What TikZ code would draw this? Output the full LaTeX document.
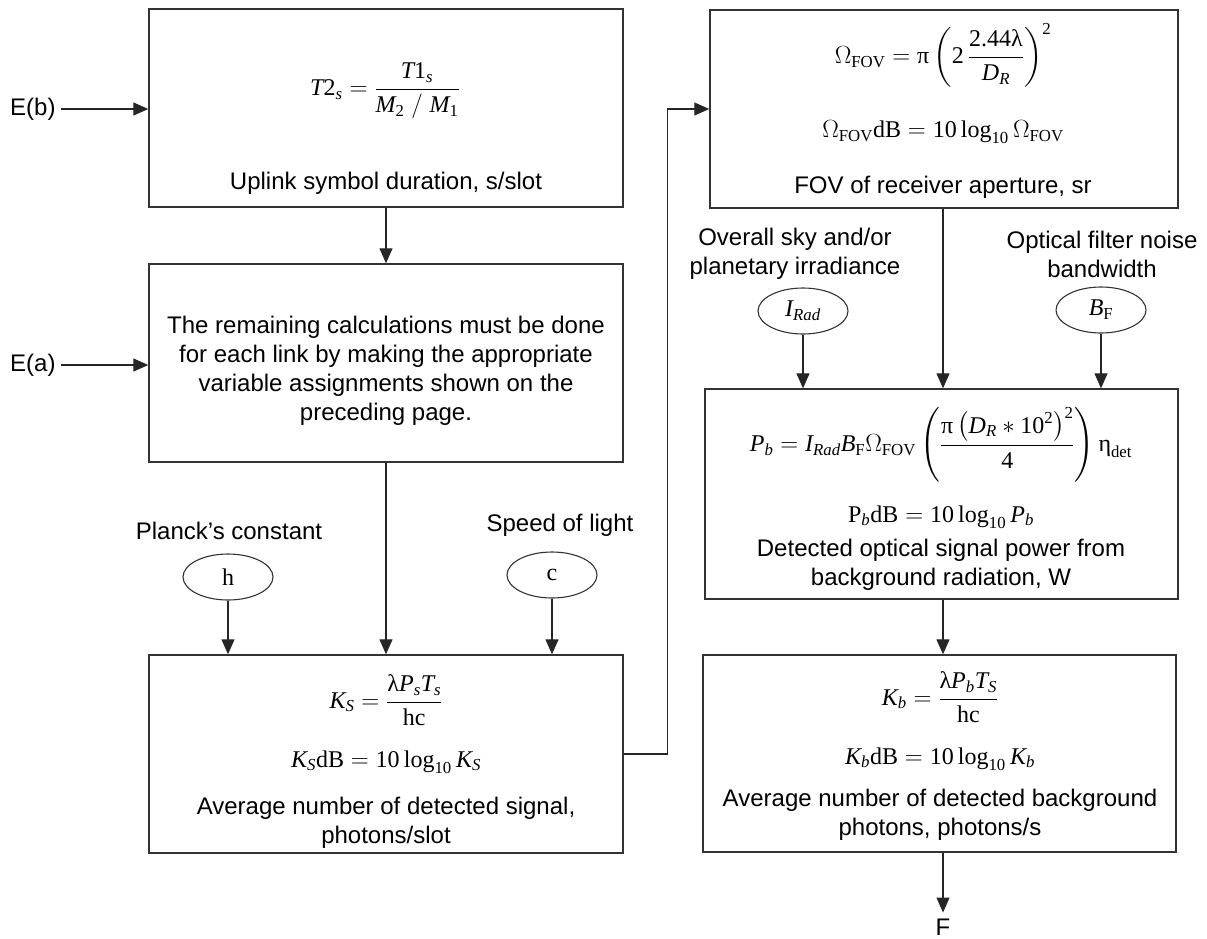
\documentclass[tikz,border=0pt]{standalone}
\usepackage{amsmath}
\usepackage{fontspec}
\setmainfont{Liberation Sans}
\newfontfamily\tms{Liberation Serif}
\usetikzlibrary{arrows.meta,shapes.geometric}

% formula letters set in the serif text face (italic and upright)
\newcommand{\itx}[1]{\text{\tms\itshape #1}}
\newcommand{\rmx}[1]{\text{\tms #1}}

\tikzset{
  box/.style={draw=black!80, line width=1.4pt, rectangle, inner sep=0pt},
  oval/.style={draw=black!80, line width=1.1pt, ellipse, minimum width=90pt,
               minimum height=46pt, inner sep=0pt, font=\fontsize{24}{29}\selectfont\tms},
  txt/.style={align=center, font=\fontsize{24}{29}\selectfont, inner sep=0pt},
  arr/.style={draw=black!85, line width=1.2pt, -{Triangle[length=15pt,width=13pt]}},
  wire/.style={draw=black!85, line width=1.2pt}
}

\begin{document}
\begin{tikzpicture}[x=1pt,y=-1pt]
\useasboundingbox (0,0) rectangle (1207,938);

% ---------- left column boxes ----------
\node[box, minimum width=474pt, minimum height=198pt] (b1) at (386,108) {};
\node[box, minimum width=474pt, minimum height=198pt] (b2) at (386,363) {};
\node[box, minimum width=474pt, minimum height=198pt] (b3) at (386,754) {};

% ---------- right column boxes ----------
\node[box, minimum width=468pt, minimum height=198pt] (b4) at (944,109) {};
\node[box, minimum width=473pt, minimum height=210pt] (b5) at (941.5,494) {};
\node[box, minimum width=473pt, minimum height=197pt] (b6) at (939.5,753.5) {};

% ---------- box contents ----------
\node[txt] (f1) at (385,91) {$\itx{T}\rmx{2}_{\itx{s}}=\dfrac{\itx{T}\rmx{1}_{\itx{s}}}{\itx{M}_{\rmx{2}}\;/\;\itx{M}_{\rmx{1}}}$};
\node[txt] (c1) at (386,183) {Uplink symbol duration, s/slot};

\node[txt] (c2) at (386,371) {The remaining calculations must be done\\
  for each link by making the appropriate\\
  variable assignments shown on the\\ preceding page.};

\node[txt] (f3a) at (386,700) {$\itx{K}_{\itx{S}}=\dfrac{\rmx{λ}\itx{P}_{\itx{s}}\itx{T}_{\itx{s}}}{\rmx{hc}}$};
\node[txt] (f3b) at (386,762) {$\itx{K}_{\itx{S}}\rmx{dB}=\rmx{10}\,\rmx{log}_{\rmx{10}}\,\itx{K}_{\itx{S}}$};
\node[txt] (c3) at (386,823) {Average number of detected signal,\\ photons/slot};

\node[txt] (f4a) at (943,55) {$\Omega_{\rmx{FOV}}=\rmx{π}\left(\rmx{2}\,\dfrac{\rmx{2.44λ}}{\itx{D}_{\itx{R}}}\right)^{\rmx{2}}$};
\node[txt] (f4b) at (943,132) {$\Omega_{\rmx{FOV}}\rmx{dB}=\rmx{10}\,\rmx{log}_{\rmx{10}}\,\Omega_{\rmx{FOV}}$};
\node[txt] (c4) at (943,187) {FOV of receiver aperture, sr};

\node[txt] (f5a) at (941,445) {$\itx{P}_{\itx{b}}=\itx{I}_{\itx{Rad}}\itx{B}_{\rmx{F}}\Omega_{\rmx{FOV}}\left(\dfrac{\rmx{π}\left(\itx{D}_{\itx{R}}*\rmx{10}^{\rmx{2}}\right)^{\rmx{2}}}{\rmx{4}}\right)\rmx{η}_{\rmx{det}}$};
\node[txt] (f5b) at (941,517) {$\rmx{P}_{\itx{b}}\rmx{dB}=\rmx{10}\,\rmx{log}_{\rmx{10}}\,\itx{P}_{\itx{b}}$};
\node[txt] (c5) at (941,565) {Detected optical signal power from\\ background radiation, W};

\node[txt] (f6a) at (940,697) {$\itx{K}_{\itx{b}}=\dfrac{\rmx{λ}\itx{P}_{\itx{b}}\itx{T}_{\itx{S}}}{\rmx{hc}}$};
\node[txt] (f6b) at (940,759) {$\itx{K}_{\itx{b}}\rmx{dB}=\rmx{10}\,\rmx{log}_{\rmx{10}}\,\itx{K}_{\itx{b}}$};
\node[txt] (c6) at (940,815) {Average number of detected background\\ photons, photons/s};

% ---------- inputs ----------
\node[txt, anchor=west] (eb) at (10,109) {E(b)};
\node[txt, anchor=west] (ea) at (10,365) {E(a)};

\node[txt] (lh) at (229,531) {Planck’s constant};
\node[oval] (h) at (228,577) {h};
\node[txt] (lc) at (560,525) {Speed of light};
\node[oval] (c) at (552,575) {c};

\node[txt] (lir) at (795,254) {Overall sky and/or\\ planetary irradiance};
\node[oval] (irad) at (803,311) {$\itx{I}_{\itx{Rad}}$};
\node[txt] (lbf) at (1102,254) {Optical filter noise\\ bandwidth};
\node[oval] (bf) at (1101,310) {$\itx{B}_{\rmx{F}}$};

\node[txt, inner sep=6pt] (fout) at (943,927) {F};

% ---------- connectors ----------
\coordinate (v1) at (943,0);

\draw[arr, shorten <=5pt] (eb.east) -- (eb.east -| b1.west);
\draw[arr, shorten <=5pt] (ea.east) -- (ea.east -| b2.west);
\draw[arr] (b1.south) -- (b2.north);
\draw[arr] (b2.south) -- (b3.north);
\draw[arr] (h.south) -- (h.south |- b3.north);
\draw[arr] (c.south) -- (c.south |- b3.north);

\draw[arr] (b3.east) -- ++(44,0) |- (b4.west);

\draw[arr] (v1 |- b4.south) -- (v1 |- b5.north);
\draw[arr] (irad.south) -- (irad.south |- b5.north);
\draw[arr] (bf.south) -- (bf.south |- b5.north);
\draw[arr] (v1 |- b5.south) -- (v1 |- b6.north);
\draw[arr] (v1 |- b6.south) -- (fout.north);
\end{tikzpicture}
\end{document}
